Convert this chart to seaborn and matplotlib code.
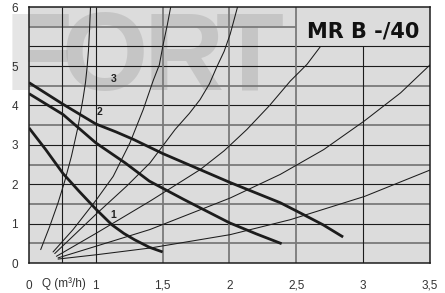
import numpy as np
import matplotlib.pyplot as plt
import seaborn as sns

# ── Data ─────────────────────────────────────────────────────────────────────
# pump curves 1-3 : Q (m3/h) vs H (m)
Q1 = [0, 0.25, 0.51, 0.75, 1.0, 1.12, 1.21, 1.29, 1.40, 1.50]
H1 = [3.43, 2.88, 2.27, 1.82, 1.37, 0.97, 0.75, 0.59, 0.40, 0.28]
Q2 = [0, 0.51, 1.0, 1.22, 1.40, 1.66, 2.0, 2.20, 2.39]
H2 = [4.30, 3.77, 3.05, 2.54, 2.08, 1.61, 1.02, 0.74, 0.49]
Q3 = [0, 0.51, 1.0, 1.15, 1.28, 1.50, 2.0, 2.38, 2.53, 2.70, 2.85]
H3 = [4.58, 4.03, 3.53, 3.33, 3.14, 2.78, 2.05, 1.53, 1.27, 0.97, 0.66]

# system curves (thin)
Qa = [0.175, 0.31, 0.435, 0.535, 0.635, 0.735, 0.81, 0.845, 0.87, 0.89, 0.905, 0.92]
Ha = [0.34, 0.93, 1.53, 2.08, 2.71, 3.47, 4.19, 4.58, 4.98, 5.27, 5.60, 6.0]
Qb = [0.36, 0.66, 1.005, 1.13, 1.255, 1.355, 1.43, 1.475, 1.505, 1.535, 1.56]
Hb = [0.28, 0.85, 1.61, 2.20, 3.05, 3.90, 4.64, 5.02, 5.38, 5.70, 6.0]
Qc = [0.385, 1.005, 1.23, 1.405, 1.593, 1.70, 1.78, 1.85, 1.905, 1.96, 2.005, 2.06]
Hc = [0.24, 1.25, 1.95, 2.54, 3.39, 3.80, 4.15, 4.55, 4.98, 5.25, 5.54, 6.0]
Qd = [0.41, 1.005, 1.405, 1.78, 1.96, 2.13, 2.30, 2.455, 2.58, 2.68]
Hd = [0.17, 0.76, 1.57, 2.37, 2.85, 3.39, 4.00, 4.62, 5.03, 5.33]
Qe = [0.435, 1.005, 1.405, 2.005, 2.38, 2.705, 3.01, 3.28, 3.5]
He = [0.13, 0.43, 0.85, 1.65, 2.25, 2.88, 3.61, 4.32, 5.02]
Qf = [0.435, 1.005, 1.405, 2.005, 2.455, 3.01, 3.5]
Hf = [0.10, 0.21, 0.38, 0.72, 1.10, 1.69, 2.36]

X_TICKS = [0, 1, 1.5, 2, 2.5, 3, 3.5]
X_LABELS = ["0", "1", "1,5", "2", "2,5", "3", "3,5"]
Y_TICKS = [0, 1, 2, 3, 4, 5, 6]
Y_LABELS = ["0", "1", "2", "3", "4", "5", "6"]

CURVE_LABELS = ["1", "2", "3"]
CURVE_LABEL_POS = [(1.13, 1.23), (1.03, 3.84), (1.13, 4.66)]

WATERMARK = ["F", "O", "R", "T"]
WATERMARK_X = [5, 62, 144, 216]      # left edge of each letter, px

# grid: (value, dark?)
H_GRID = [(0.5, False), (1, True), (1.5, False), (2, True), (2.5, False),
          (3, True), (3.5, False), (4, True), (4.5, False), (5, True),
          (5 + 1 / 3, True)]
V_GRID = [(0.5, True), (1, True), (1.5, False), (2, False), (2.5, False)]

BG = "#dcdcdc"
DARK = "#1c1c1c"
GREY = "#7a7a7a"


# ── Axis scales: the chart is stretched above Q=1 and squeezed above H=5 ────
def fwd_x(q):
    q = np.asarray(q, float)
    return np.where(q <= 1, q, 2 * q - 1)


def inv_x(u):
    u = np.asarray(u, float)
    return np.where(u <= 1, u, (u + 1) / 2)


def fwd_y(h):
    h = np.asarray(h, float)
    return np.where(h <= 5, h, 1.5 * h - 2.5)


def inv_y(v):
    v = np.asarray(v, float)
    return np.where(v <= 5, v, (v + 2.5) / 1.5)


sns.set_style("white")
plt.rcParams["font.family"] = ["Liberation Sans", "DejaVu Sans"]

fig = plt.figure(figsize=(4.45, 2.93), dpi=100)
ax = fig.add_axes([29 / 445, 30 / 293, 401 / 445, 256 / 293])
ax.set_facecolor(BG)

# thin system curves
for qs, hs in [(Qa, Ha), (Qb, Hb), (Qc, Hc), (Qd, Hd), (Qe, He), (Qf, Hf)]:
    sns.lineplot(x=qs, y=hs, sort=False, estimator=None, ax=ax,
                 color=DARK, linewidth=0.75, zorder=3)

# thick pump curves
for qs, hs in [(Q1, H1), (Q2, H2), (Q3, H3)]:
    sns.lineplot(x=qs, y=hs, sort=False, estimator=None, ax=ax,
                 color=DARK, linewidth=2.0, zorder=4,
                 solid_capstyle="butt", solid_joinstyle="round")

ax.set_xscale("function", functions=(fwd_x, inv_x))
ax.set_yscale("function", functions=(fwd_y, inv_y))
ax.set_xlim(0, 3.5)
ax.set_ylim(0, 6)

# grid lines (the title box interrupts the top ones)
for h, dark in H_GRID:
    ax.hlines(h, 0, 3.5, color=DARK if dark else GREY,
              linewidth=0.8 if dark else 1.3, zorder=2)
ax.hlines(5 + 2 / 3, 0, 2.5, color=GREY, linewidth=1.3, zorder=2)
for q, dark in V_GRID:
    ax.vlines(q, 0, 6, color=DARK if dark else GREY,
              linewidth=0.8 if dark else 1.3, zorder=2)
ax.vlines(3, 0, 5 + 1 / 3, color=DARK, linewidth=0.8, zorder=2)

for sp in ax.spines.values():
    sp.set_visible(True)
    sp.set_color(DARK)
    sp.set_linewidth(1.1)

# watermark letters
for letter, xp in zip(WATERMARK, WATERMARK_X):
    ax.text(xp / 445, 1 - 90 / 293, letter, transform=fig.transFigure,
            fontsize=80, fontweight="bold", color="black", alpha=0.10,
            ha="left", va="baseline", zorder=1, clip_on=False)

# title in the box
ax.text(3.0, 5.49, "MR B -/40", ha="center", va="baseline",
        fontsize=15, fontweight="bold", family="DejaVu Sans",
        color="#111111", zorder=5)

for lab, (q, h) in zip(CURVE_LABELS, CURVE_LABEL_POS):
    ax.text(q, h, lab, ha="center", va="center", fontsize=7.5,
            fontweight="bold", color="#222222", zorder=5)

ax.set_xticks(X_TICKS)
ax.set_xticklabels(X_LABELS)
ax.set_yticks(Y_TICKS)
ax.set_yticklabels(Y_LABELS)
ax.tick_params(axis="both", length=0, labelsize=8.5, colors="#333333")
ax.tick_params(axis="x", pad=12)
ax.tick_params(axis="y", pad=8)
ax.text(0.53, -0.0926, "Q (m³/h)", transform=ax.get_xaxis_transform(),
        ha="center", va="baseline", fontsize=8.5, color="#333333")
ax.set_xlabel("")
ax.set_ylabel("")

fig.savefig("out.png", dpi=100)
